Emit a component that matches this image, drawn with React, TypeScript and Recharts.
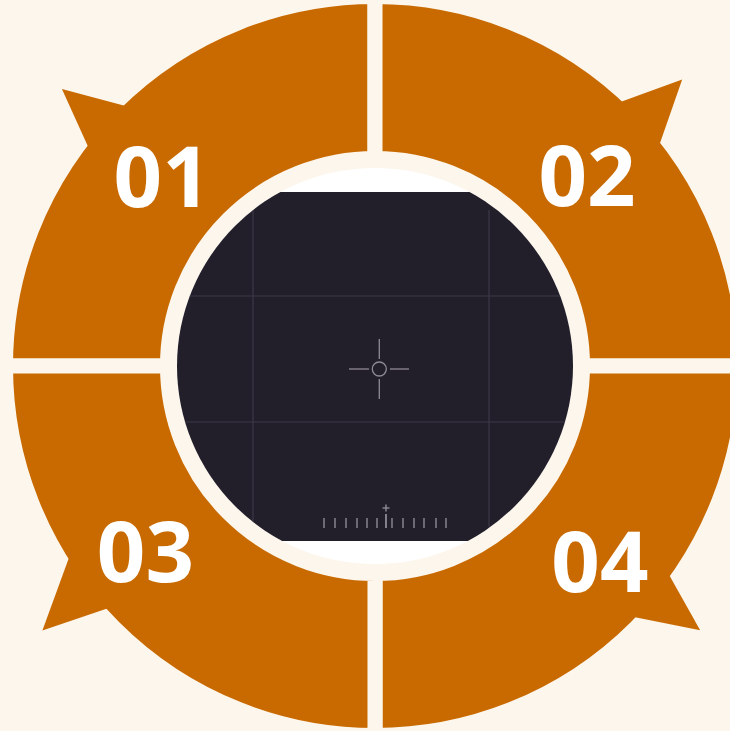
import React from 'react';
import { PieChart, Pie, Cell, Customized } from 'recharts';

// Data: the four steps of the cycle, listed clockwise starting from the top-left quadrant
const CATEGORIES = ['01', '02', '04', '03'];
const SHARES = [25, 25, 25, 25];

// Layout / style (not data)
const W = 730;
const H = 731;
const CX = 375;
const CY = 366;
const BG = '#fdf6ec';
const ORANGE = '#c86a00';
const DARK = '#221e2a';
const GAP = 15;
const LABEL_ANGLE_OFFSETS = [3.3, -3.1, 4, -6.1];
const LABEL_RADII = [285, 285, 298, 295];
const SPIKES = [
  { a0: -2, a1: 8.4, tip: 3.5, r: 418 },
  { a0: -8, a1: 2.8, tip: -2, r: 420 },
  { a0: 0, a1: 10.3, tip: 5.9, r: 419 },
  { a0: -14.1, a1: -2.2, tip: -6.5, r: 425 },
];
const RULER_TICKS = [324, 335, 346, 357, 367, 377, 392, 403, 414, 424, 436, 446];

const RAD = Math.PI / 180;
const polar = (cx: number, cy: number, r: number, a: number) => ({
  x: cx + r * Math.cos(-a * RAD),
  y: cy + r * Math.sin(-a * RAD),
});

const pieData = CATEGORIES.map((name, i) => ({ name, value: SHARES[i] }));

const renderLabel = (props: any) => {
  const { cx, cy, midAngle, index, name } = props;
  const s = SPIKES[index];
  const baseR = 352;
  const p0 = polar(cx, cy, baseR, midAngle + s.a0);
  const p1 = polar(cx, cy, s.r, midAngle + s.tip);
  const p2 = polar(cx, cy, baseR, midAngle + s.a1);
  const lp = polar(cx, cy, LABEL_RADII[index], midAngle + LABEL_ANGLE_OFFSETS[index]);
  const fs = 85;
  return (
    <g key={`lbl-${index}`}>
      <polygon points={`${p0.x},${p0.y} ${p1.x},${p1.y} ${p2.x},${p2.y}`} fill={ORANGE} />
      <text
        x={lp.x}
        y={lp.y + fs * 0.357}
        textAnchor="middle"
        fill="#ffffff"
        fontFamily="'Noto Sans', 'Open Sans', sans-serif"
        fontWeight={700}
        fontSize={fs}
      >
        {name}
      </text>
    </g>
  );
};

const Viewport = () => {
  const r = 198;
  return (
    <g>
      <defs>
        <clipPath id="vpClip">
          <circle cx={CX} cy={CY} r={r} />
        </clipPath>
      </defs>
      <circle cx={CX} cy={CY} r={r} fill="#ffffff" />
      <g clipPath="url(#vpClip)">
        <rect x={CX - 230} y={192} width={460} height={349} fill={DARK} />
        <line x1={CX - 230} x2={CX + 230} y1={296} y2={296} stroke="#3d3846" strokeWidth={1.2} />
        <line x1={CX - 230} x2={CX + 230} y1={422} y2={422} stroke="#3d3846" strokeWidth={1.2} />
        <line x1={253} x2={253} y1={210} y2={527} stroke="#3d3846" strokeWidth={1.2} />
        <line x1={489} x2={489} y1={210} y2={527} stroke="#3d3846" strokeWidth={1.2} />
      </g>
      <g stroke="#8e8a96" strokeWidth={1.3} fill="none">
        <circle cx={379.3} cy={369} r={7} />
        <line x1={349} x2={369} y1={369} y2={369} />
        <line x1={390} x2={409} y1={369} y2={369} />
        <line x1={379.3} x2={379.3} y1={339} y2={359} />
        <line x1={379.3} x2={379.3} y1={379} y2={399} />
      </g>
      <g stroke="#8e8a96" strokeWidth={1.4}>
        {RULER_TICKS.map((x) => (
          <line key={x} x1={x} x2={x} y1={518} y2={528} />
        ))}
        <line x1={386} x2={386} y1={514} y2={528} strokeWidth={1.8} />
        <line x1={382.5} x2={389.5} y1={508} y2={508} />
        <line x1={386} x2={386} y1={504.5} y2={511.5} />
      </g>
    </g>
  );
};

export default function App() {
  return (
    <div
      style={{
        position: 'fixed',
        left: 0,
        top: 0,
        width: W,
        height: H,
        background: BG,
        overflow: 'hidden',
      }}
    >
      <PieChart width={W} height={H} margin={{ top: 0, right: 0, bottom: 0, left: 0 }}>
        <Pie
          data={pieData}
          dataKey="value"
          nameKey="name"
          cx={CX}
          cy={CY}
          startAngle={180}
          endAngle={-180}
          innerRadius={215 - GAP / 2}
          outerRadius={362 + GAP / 2}
          paddingAngle={0}
          stroke={BG}
          strokeWidth={GAP}
          label={renderLabel}
          labelLine={false}
          isAnimationActive={false}
        >
          {pieData.map((d) => (
            <Cell key={d.name} fill={ORANGE} stroke={BG} strokeWidth={GAP} />
          ))}
        </Pie>
        <Customized component={Viewport} />
      </PieChart>
    </div>
  );
}
